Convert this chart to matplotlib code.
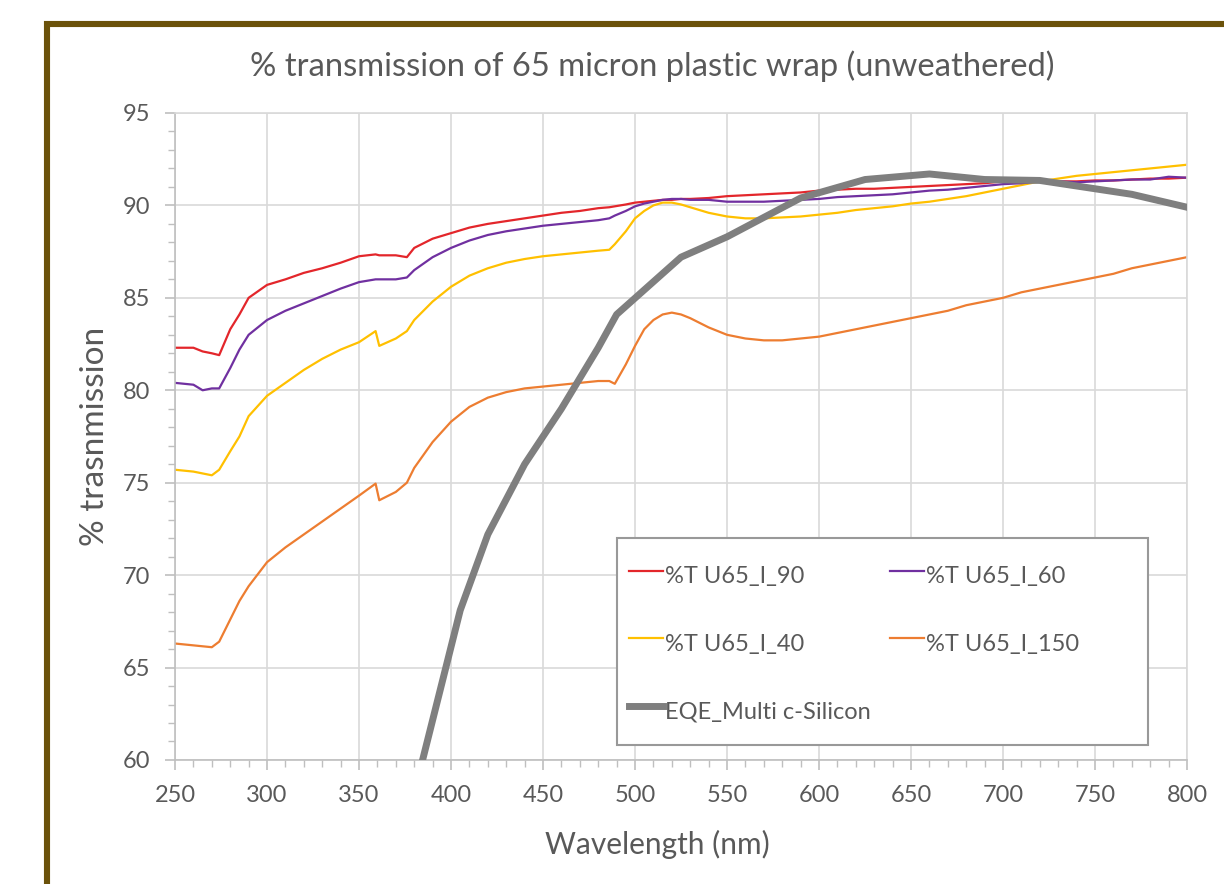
import matplotlib
matplotlib.use('Agg')
import matplotlib.pyplot as plt
from matplotlib.patches import Rectangle
from matplotlib.ticker import MultipleLocator

plt.rcParams['font.family'] = ['Lato', 'DejaVu Sans']

# wavelength grid (nm) shared by the four transmission series
wl = [250, 260, 265, 270, 274, 280, 285, 290, 300, 310, 320, 330, 340, 350, 359, 361,
      370, 376, 380, 390, 400, 410, 420, 430, 440, 450, 460, 470, 480, 486, 489,
      495, 500, 505, 510, 515, 520, 525, 530, 540, 550, 560, 570, 580, 590, 600,
      610, 620, 630, 640, 650, 660, 670, 680, 690, 700, 710, 720, 730, 740, 750,
      760, 770, 780, 790, 800]

t_90 = [82.3, 82.3, 82.1, 82.0, 81.9, 83.3, 84.1, 85.0, 85.7, 86.0, 86.35, 86.6, 86.9, 87.25, 87.35, 87.3,
        87.3, 87.2, 87.7, 88.2, 88.5, 88.8, 89.0, 89.15, 89.3, 89.45, 89.6, 89.7, 89.85, 89.9, 89.95,
        90.05, 90.15, 90.2, 90.25, 90.3, 90.3, 90.35, 90.35, 90.4, 90.5, 90.55, 90.6, 90.65, 90.7, 90.8,
        90.85, 90.9, 90.9, 90.95, 91.0, 91.05, 91.1, 91.15, 91.2, 91.3, 91.35, 91.35, 91.3, 91.3, 91.35,
        91.35, 91.4, 91.45, 91.45, 91.5]

t_60 = [80.4, 80.3, 80.0, 80.1, 80.1, 81.2, 82.2, 83.0, 83.8, 84.3, 84.7, 85.1, 85.5, 85.85, 86.0, 86.0,
        86.0, 86.1, 86.5, 87.2, 87.7, 88.1, 88.4, 88.6, 88.75, 88.9, 89.0, 89.1, 89.2, 89.3, 89.45,
        89.7, 89.95, 90.1, 90.2, 90.3, 90.35, 90.35, 90.3, 90.3, 90.2, 90.2, 90.2, 90.25, 90.3, 90.35,
        90.45, 90.5, 90.55, 90.6, 90.7, 90.8, 90.85, 90.95, 91.05, 91.15, 91.2, 91.3, 91.3, 91.25, 91.3,
        91.35, 91.4, 91.4, 91.55, 91.5]

t_40 = [75.7, 75.6, 75.5, 75.4, 75.7, 76.7, 77.5, 78.6, 79.7, 80.4, 81.1, 81.7, 82.2, 82.6, 83.2, 82.4,
        82.8, 83.2, 83.8, 84.8, 85.6, 86.2, 86.6, 86.9, 87.1, 87.25, 87.35, 87.45, 87.55, 87.6, 87.9,
        88.6, 89.3, 89.7, 90.0, 90.15, 90.15, 90.05, 89.9, 89.6, 89.4, 89.3, 89.3, 89.35, 89.4, 89.5,
        89.6, 89.75, 89.85, 89.95, 90.1, 90.2, 90.35, 90.5, 90.7, 90.9, 91.1, 91.3, 91.45, 91.6, 91.7,
        91.8, 91.9, 92.0, 92.1, 92.2]

t_150 = [66.3, 66.2, 66.15, 66.1, 66.4, 67.6, 68.6, 69.4, 70.7, 71.5, 72.2, 72.9, 73.6, 74.3, 74.95, 74.05,
         74.5, 75.0, 75.8, 77.2, 78.3, 79.1, 79.6, 79.9, 80.1, 80.2, 80.3, 80.4, 80.5, 80.5, 80.35,
         81.4, 82.4, 83.3, 83.8, 84.1, 84.2, 84.1, 83.9, 83.4, 83.0, 82.8, 82.7, 82.7, 82.8, 82.9,
         83.1, 83.3, 83.5, 83.7, 83.9, 84.1, 84.3, 84.6, 84.8, 85.0, 85.3, 85.5, 85.7, 85.9, 86.1,
         86.3, 86.6, 86.8, 87.0, 87.2]

# EQE of multi c-Si cell
eqe_wl = [380, 405, 420, 440, 460, 480, 490, 525, 550, 590, 625, 660, 690, 720, 770, 800]
eqe = [58.2, 68.1, 72.2, 76.0, 79.0, 82.3, 84.1, 87.2, 88.3, 90.4, 91.4, 91.7, 91.4, 91.35, 90.6, 89.9]

txt = '#595959'
grid = '#D9D9D9'

fig = plt.figure(figsize=(12.24, 8.84), dpi=100)
ax = fig.add_axes([0.1430, 0.1403, 0.8268, 0.7319])

ax.plot(wl, t_90, color='#E3262B', lw=1.6, label='%T U65_I_90')
ax.plot(wl, t_40, color='#FFC000', lw=1.6, label='%T U65_I_40')
ax.plot(eqe_wl, eqe, color='#7F7F7F', lw=5, label='EQE_Multi c-Silicon', zorder=5)
ax.plot(wl, t_60, color='#7030A0', lw=1.6, label='%T U65_I_60')
ax.plot(wl, t_150, color='#ED7D31', lw=1.6, label='%T U65_I_150')

ax.set_xlim(250, 800)
ax.set_ylim(60, 95)
ax.xaxis.set_major_locator(MultipleLocator(50))
ax.xaxis.set_minor_locator(MultipleLocator(10))
ax.yaxis.set_major_locator(MultipleLocator(5))
ax.yaxis.set_minor_locator(MultipleLocator(1))
ax.grid(which='major', color=grid, lw=1.2)
ax.set_axisbelow(True)
ax.tick_params(which='both', direction='out', color='#BFBFBF', labelcolor=txt, labelsize=17)
ax.tick_params(which='major', length=7, width=1.2, pad=11)
ax.tick_params(which='minor', length=5, width=1.0)
for s in ax.spines.values():
    s.set_color(grid)
    s.set_linewidth(1.2)
ax.spines['left'].set_color('#BFBFBF')
ax.spines['bottom'].set_color('#BFBFBF')

ax.set_xlabel('Wavelength (nm)', fontsize=21.5, color=txt)
ax.set_ylabel('% trasnmission', fontsize=24, color=txt)
ax.xaxis.set_label_coords(0.477, -0.108)
ax.yaxis.set_label_coords(-0.064, 0.5)

fig.text(0.533, 0.925, '% transmission of 65 micron plastic wrap (unweathered)',
         ha='center', va='center', fontsize=23.6, color=txt)

# legend box drawn separately so it can be wider than its entries
ax.add_patch(Rectangle((0.4368, 0.0232), 0.5247, 0.32, transform=ax.transAxes,
                       facecolor='white', edgecolor='#999999', lw=1.5, zorder=9))
leg = ax.legend(ncol=2, loc='upper left', bbox_to_anchor=(0.4486, 0.3122),
                fontsize=17, labelcolor=txt, frameon=False,
                handlelength=1.44, handleheight=1.95, handletextpad=0.1,
                labelspacing=1.35, columnspacing=0.8, borderpad=0, borderaxespad=0)
leg.set_zorder(10)

# brown outer frame (right and bottom edges run off the picture)
fig.patches.append(Rectangle((47 / 1224, -0.1), 1.2, 1.1 - 24.5 / 884, transform=fig.transFigure,
                             fill=False, edgecolor='#6B520A', lw=4.4))

fig.savefig('out.png', dpi=100)
